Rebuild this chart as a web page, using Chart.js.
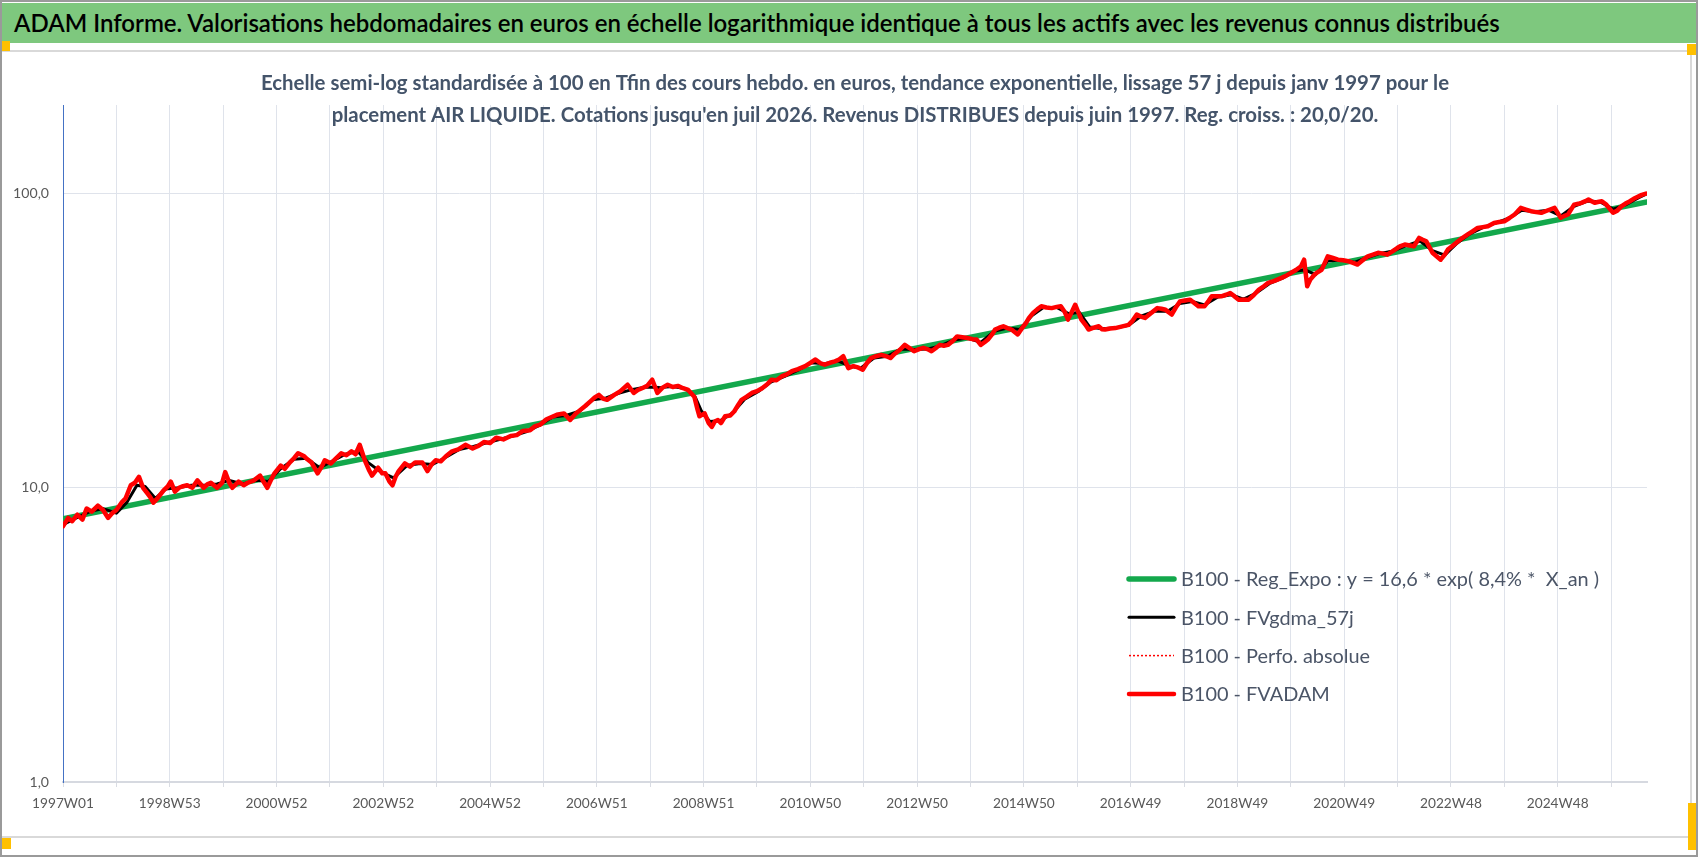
<!DOCTYPE html>
<html lang="fr">
<head>
<meta charset="utf-8">
<title>ADAM Informe - AIR LIQUIDE</title>
<script src="https://cdn.jsdelivr.net/npm/chart.js@4.4.1/dist/chart.umd.min.js"></script>
<style>
  html, body { margin: 0; padding: 0; background: #fff; }
  #page { position: relative; width: 1698px; height: 857px; overflow: hidden; background: #fff; }
  #page div { position: absolute; }
  #header { left: 0; top: 3px; width: 1698px; height: 40px; background: #7ec87e; }
  #headerText { left: 14px; top: 0; line-height: 40px; color: #000; white-space: nowrap; font-weight: 600; }
  .rule { background: #d9d9d9; }
  .handle { background: #ffc000; }
  #frame { left: 0; top: 0; width: 1698px; height: 857px; box-sizing: border-box; border: 2px solid #9a9a9a; }
  canvas { position: absolute; left: 0; top: 0; }
</style>
</head>
<body>
<div id="page">
  <div id="header"><div id="headerText"></div></div>
  <div class="rule" style="left:0;top:50px;width:1692px;height:2px"></div>
  <div class="rule" style="left:1690px;top:50px;width:2px;height:788px"></div>
  <div class="rule" style="left:0;top:836px;width:1692px;height:2px"></div>
  <canvas id="chart" width="1698" height="857"></canvas>
  <div class="handle" style="left:0;top:41px;width:10px;height:10px"></div>
  <div class="handle" style="left:1687px;top:44px;width:9px;height:11px"></div>
  <div class="handle" style="left:0;top:838px;width:11px;height:11px"></div>
  <div class="handle" style="left:1688px;top:803px;width:9px;height:47px"></div>
  <div id="frame"></div>
</div>
<script>
// --- data (x = week index since 1997W01) ---
const weekLabels = ['1997W01', '1998W53', '2000W52', '2002W52', '2004W52', '2006W51', '2008W51',
  '2010W50', '2012W50', '2014W50', '2016W49', '2018W49', '2020W49', '2022W48', '2024W48'];
const yTickValues = [1, 10, 100];
const lastWeek = 1543;

const seriesNames = [
  'B100 - Reg_Expo : y = 16,6 * exp( 8,4% *  X_an )',
  'B100 - FVgdma_57j',
  'B100 - Perfo. absolue',
  'B100 - FVADAM'
];

// exponential trend: straight on the log scale, end points
const regWeeks = [0, 1543];
const regValues = [7.85, 93.6];

// FVADAM (weekly valuation, base 100 at the end)
const adamWeeks = [
  0, 5, 9, 14, 19, 23, 28, 34, 39, 44,
  48, 52, 57, 61, 66, 70, 74, 78, 82, 85,
  88, 92, 98, 102, 105, 109, 113, 116, 121, 126,
  131, 137, 141, 144, 150, 155, 158, 162, 165, 171,
  176, 180, 186, 192, 196, 199, 203, 206, 212, 216,
  221, 225, 229, 235, 238, 242, 248, 252, 255, 261,
  266, 271, 276, 281, 285, 289, 294, 298, 301, 307,
  311, 314, 318, 321, 324, 327, 333, 338, 343, 350,
  355, 359, 363, 368, 373, 379, 385, 392, 399, 405,
  410, 416, 422, 429, 436, 442, 448, 455, 460, 465,
  471, 476, 481, 488, 494, 499, 504, 509, 514, 518,
  522, 526, 530, 537, 543, 550, 556, 560, 564, 569,
  574, 579, 584, 589, 594, 599, 604, 609, 615, 618,
  620, 625, 629, 632, 635, 638, 641, 645, 650, 654,
  658, 661, 666, 671, 676, 681, 686, 690, 695, 700,
  705, 710, 716, 723, 728, 733, 738, 742, 747, 752,
  756, 760, 765, 770, 775, 779, 783, 787, 792, 797,
  802, 806, 810, 815, 820, 825, 829, 834, 838, 842,
  846, 850, 854, 858, 862, 867, 871, 876, 881, 886,
  890, 894, 898, 901, 905, 908, 912, 916, 920, 924,
  930, 934, 938, 941, 945, 949, 953, 958, 963, 968,
  972, 976, 979, 983, 986, 989, 992, 996, 999, 1004,
  1009, 1012, 1015, 1020, 1025, 1031, 1038, 1042, 1046, 1050,
  1054, 1060, 1066, 1070, 1074, 1077, 1080, 1084, 1088, 1093,
  1098, 1102, 1106, 1112, 1116, 1119, 1124, 1129, 1133, 1137,
  1141, 1145, 1150, 1155, 1160, 1165, 1170, 1174, 1180, 1187,
  1192, 1196, 1201, 1206, 1209, 1212, 1215, 1219, 1222, 1226,
  1229, 1232, 1237, 1242, 1247, 1252, 1256, 1261, 1266, 1271,
  1276, 1281, 1286, 1290, 1295, 1300, 1303, 1307, 1312, 1316,
  1321, 1324, 1328, 1331, 1334, 1338, 1342, 1346, 1349, 1354,
  1359, 1363, 1368, 1373, 1378, 1383, 1388, 1394, 1399, 1404,
  1409, 1414, 1417, 1420, 1425, 1430, 1435, 1440, 1446, 1453,
  1456, 1459, 1462, 1466, 1469, 1472, 1476, 1479, 1483, 1486,
  1489, 1492, 1495, 1499, 1503, 1507, 1510, 1514, 1518, 1522,
  1526, 1530, 1534, 1538, 1542
];
const adamValues = [
  7.4, 7.9, 7.7, 8.1, 7.8, 8.5, 8.3, 8.7, 8.4, 7.9,
  8.2, 8.4, 8.9, 9.2, 10.2, 10.4, 10.9, 10.0, 9.6, 9.3,
  8.9, 9.2, 9.8, 10.1, 10.5, 9.7, 10.0, 10.1, 10.2, 10.0,
  10.6, 10.0, 10.3, 10.4, 10.0, 10.4, 11.3, 10.4, 10.0, 10.5,
  10.2, 10.4, 10.6, 11.0, 10.4, 10.0, 10.7, 11.2, 11.9, 11.6,
  12.2, 12.6, 13.1, 12.8, 12.5, 12.2, 11.2, 11.8, 12.4, 12.1,
  12.6, 13.1, 12.9, 13.3, 13.0, 14.0, 12.4, 11.5, 11.0, 11.7,
  11.2, 11.2, 10.5, 10.2, 10.9, 11.4, 12.1, 11.8, 12.2, 12.2,
  11.4, 12.0, 12.4, 12.3, 12.8, 13.3, 13.5, 14.0, 13.6, 13.9,
  14.3, 14.2, 14.8, 14.6, 15.0, 15.1, 15.6, 15.7, 16.2, 16.4,
  17.1, 17.4, 17.7, 17.9, 17.0, 17.8, 18.4, 19.0, 19.7, 20.3,
  20.7, 20.1, 19.9, 20.7, 21.3, 22.4, 21.0, 21.5, 21.8, 22.2,
  23.3, 21.0, 21.9, 22.4, 22.0, 22.2, 21.8, 21.5, 20.4, 18.5,
  17.5, 17.9, 16.6, 16.1, 16.8, 17.0, 16.6, 17.5, 17.6, 18.2,
  19.2, 19.9, 20.4, 21.0, 21.3, 21.8, 22.5, 23.3, 23.2, 23.9,
  24.3, 24.9, 25.3, 25.9, 26.6, 27.3, 26.5, 26.2, 26.6, 26.9,
  27.3, 28.0, 25.5, 25.9, 25.6, 25.2, 26.5, 27.6, 28.0, 28.3,
  28.0, 27.6, 28.5, 29.4, 30.6, 29.8, 29.1, 29.6, 29.9, 29.6,
  29.1, 29.8, 30.6, 30.4, 30.6, 31.6, 32.7, 32.5, 32.3, 32.0,
  31.9, 30.6, 31.3, 31.9, 33.2, 34.5, 35.0, 35.4, 34.9, 34.5,
  33.2, 34.8, 36.3, 37.8, 39.3, 40.4, 41.4, 41.0, 40.8, 41.2,
  41.4, 39.5, 37.3, 39.8, 41.9, 39.5, 37.3, 35.8, 34.5, 35.0,
  35.4, 34.6, 34.5, 34.8, 34.9, 35.3, 35.8, 37.0, 38.8, 38.2,
  37.8, 39.3, 40.8, 40.6, 40.3, 39.5, 38.8, 41.0, 43.0, 43.3,
  43.6, 42.5, 41.4, 41.4, 43.2, 44.8, 44.8, 44.8, 45.3, 45.9,
  44.8, 43.6, 43.6, 43.6, 45.2, 47.2, 48.5, 49.7, 50.5, 51.7,
  52.7, 53.7, 55.0, 56.6, 59.6, 48.4, 51.0, 53.0, 54.0, 55.1,
  58.0, 61.2, 60.4, 59.6, 59.3, 58.9, 58.2, 57.4, 59.3, 61.2,
  62.0, 62.9, 62.5, 62.0, 63.6, 65.4, 66.3, 67.1, 66.6, 66.2,
  70.7, 69.8, 68.8, 65.8, 62.9, 61.2, 59.6, 62.0, 64.5, 66.6,
  68.8, 70.6, 72.5, 74.4, 76.4, 76.9, 77.4, 79.4, 80.0, 80.5,
  82.6, 84.9, 87.0, 89.4, 88.2, 87.1, 86.5, 86.0, 87.6, 89.4,
  86.0, 82.7, 83.8, 84.9, 88.2, 91.7, 92.3, 93.0, 94.2, 95.4,
  94.2, 93.0, 93.6, 94.2, 92.0, 88.5, 86.1, 87.5, 90.5, 92.5,
  94.0, 96.0, 97.5, 99.0, 100.0
];

// FVgdma_57j (smoothed)
const gdmaWeeks = [
  0, 13, 26, 39, 52, 62, 72, 80, 90, 100,
  112, 125, 138, 150, 162, 175, 188, 200, 212, 225,
  237, 250, 262, 275, 287, 297, 310, 322, 335, 348,
  360, 373, 386, 399, 412, 425, 438, 451, 464, 477,
  490, 503, 516, 529, 542, 555, 568, 581, 594, 607,
  616, 622, 630, 640, 652, 664, 677, 690, 703, 716,
  729, 742, 755, 765, 777, 790, 803, 816, 829, 842,
  855, 868, 881, 894, 907, 920, 932, 944, 955, 968,
  980, 990, 1000, 1012, 1025, 1038, 1050, 1063, 1076, 1088,
  1100, 1112, 1125, 1138, 1150, 1162, 1175, 1188, 1200, 1210,
  1220, 1232, 1245, 1258, 1270, 1283, 1296, 1309, 1322, 1334,
  1346, 1358, 1370, 1383, 1396, 1409, 1421, 1434, 1447, 1459,
  1472, 1485, 1497, 1510, 1522, 1535, 1542
];
const gdmaValues = [
  7.5, 7.9, 8.3, 8.5, 8.2, 8.9, 10.2, 10.1, 9.2, 9.9,
  10.0, 10.2, 10.2, 10.3, 10.6, 10.3, 10.6, 10.5, 11.6, 12.5,
  12.6, 11.7, 12.3, 13.0, 13.3, 12.2, 11.3, 10.8, 11.9, 12.1,
  12.0, 12.7, 13.5, 13.8, 14.2, 14.6, 15.0, 15.5, 16.3, 17.4,
  17.6, 18.2, 19.9, 20.2, 21.0, 21.6, 22.0, 21.9, 22.1, 21.7,
  20.3, 18.2, 16.8, 16.9, 17.9, 20.0, 21.2, 22.9, 23.9, 25.1,
  26.6, 26.4, 27.0, 26.0, 25.5, 27.6, 28.0, 29.6, 29.5, 29.6,
  30.4, 31.8, 32.3, 31.2, 34.0, 34.9, 34.5, 38.5, 41.0, 41.0,
  39.0, 39.5, 35.2, 34.7, 34.9, 35.7, 38.3, 39.8, 39.8, 42.3,
  43.0, 41.8, 44.5, 45.3, 43.8, 45.8, 49.4, 51.6, 54.6, 55.0,
  53.0, 59.0, 59.5, 58.4, 60.5, 62.6, 63.8, 66.7, 69.0, 64.0,
  61.8, 67.8, 72.8, 76.6, 79.5, 82.6, 87.8, 86.8, 87.8, 84.0,
  90.5, 94.3, 93.8, 88.5, 91.5, 96.8, 99.5
];

const headerTitle = 'ADAM Informe. Valorisations hebdomadaires en euros en échelle logarithmique identique à tous les actifs avec les revenus connus distribués';
const subTitle = [
  'Echelle semi-log standardisée à 100 en Tfin des cours hebdo. en euros, tendance exponentielle, lissage 57 j depuis janv 1997 pour le',
  "placement AIR LIQUIDE. Cotations jusqu'en juil 2026. Revenus DISTRIBUES depuis juin 1997. Reg. croiss. : 20,0/20."
];

// --- fonts: size each text so that it spans the width measured on the picture ---
const FONT = 'Lato, "Liberation Sans", sans-serif';
function hasFont(name) {
  const c = document.createElement('canvas').getContext('2d');
  const s = 'abcdefghijklmnopqrstuvwxyz 0123456789 WMW';
  c.font = '40px monospace';
  const a = c.measureText(s).width;
  c.font = '40px "' + name + '", monospace';
  return c.measureText(s).width !== a;
}
// the original uses a narrow face for the axis labels
const TICK_FONT = hasFont('Liberation Sans Narrow') ? '"Liberation Sans Narrow", ' + FONT : FONT;

function fitSize(text, weight, family, target) {
  const c = document.createElement('canvas').getContext('2d');
  c.font = weight + ' 100px ' + family;
  return Math.round(1000 * target / c.measureText(text).width) / 10;
}
const headerSize = fitSize(headerTitle, '600', FONT, 1484);
const subSize = fitSize(subTitle[0], 'bold', FONT, 1186);
const legendSize = fitSize(seriesNames[2], 'normal', FONT, 189);
const xTickSize = fitSize(weekLabels[0], 'normal', TICK_FONT, 62);
const yTickSize = fitSize('100,0', 'normal', TICK_FONT, 36);

const headerEl = document.getElementById('headerText');
headerEl.textContent = headerTitle;
headerEl.style.fontFamily = FONT;
headerEl.style.fontSize = headerSize + 'px';

function points(xs, ys) {
  return xs.map((x, i) => ({ x: x, y: ys[i] }));
}

// legend drawn inside the plot, lower right
const legendInside = {
  id: 'legendInside',
  afterDraw(chart) {
    const ctx = chart.ctx;
    const area = chart.chartArea;
    const x0 = area.left + 1064;
    const y0 = area.top + 474;
    ctx.save();
    ctx.font = legendSize + 'px ' + FONT;
    ctx.textBaseline = 'middle';
    ctx.fillStyle = '#4b5567';
    chart.data.datasets.forEach((ds, i) => {
      const y = y0 + i * 38.3;
      ctx.beginPath();
      ctx.setLineDash(ds.borderDash || []);
      ctx.lineWidth = ds.borderWidth;
      ctx.strokeStyle = ds.borderColor;
      ctx.lineCap = ds.borderDash ? 'butt' : 'round';
      ctx.moveTo(x0 + 2, y);
      ctx.lineTo(x0 + 47, y);
      ctx.stroke();
      ctx.setLineDash([]);
      ctx.fillText(ds.label, x0 + 54, y + 1);
    });
    ctx.restore();
  }
};

const gridColor = '#dfe3eb';

new Chart(document.getElementById('chart').getContext('2d'), {
  type: 'line',
  data: {
    datasets: [
      { label: seriesNames[0], data: points(regWeeks, regValues), borderColor: '#13a84c', borderWidth: 5.5, order: 4 },
      { label: seriesNames[1], data: points(gdmaWeeks, gdmaValues), borderColor: '#000000', borderWidth: 3, order: 3 },
      { label: seriesNames[2], data: points(adamWeeks, adamValues), borderColor: '#ff0000', borderWidth: 1.5, borderDash: [2, 2], order: 2 },
      { label: seriesNames[3], data: points(adamWeeks, adamValues), borderColor: '#ff0000', borderWidth: 4.5, order: 1 }
    ]
  },
  options: {
    responsive: false,
    animation: false,
    events: [],
    layout: { padding: { left: 0, top: 67, right: 51, bottom: 30 } },
    elements: {
      point: { radius: 0 },
      line: { tension: 0, borderJoinStyle: 'round', borderCapStyle: 'round', fill: false }
    },
    plugins: {
      legend: { display: false },
      tooltip: { enabled: false },
      title: {
        display: true,
        fullSize: false,
        text: subTitle,
        color: '#44546a',
        font: { family: FONT, size: subSize, weight: 'bold', lineHeight: '32px' },
        padding: { top: 0, bottom: -26 }
      }
    },
    scales: {
      x: {
        type: 'linear',
        min: 0,
        max: lastWeek,
        afterBuildTicks: (s) => {
          const t = [];
          for (let v = 0; v <= lastWeek; v += 52) t.push({ value: v });
          s.ticks = t;
        },
        afterFit: (s) => { s.height = 45; },
        ticks: {
          autoSkip: false,
          maxRotation: 0,
          minRotation: 0,
          padding: 8,
          color: '#595959',
          font: { family: TICK_FONT, size: xTickSize },
          callback: (v) => (v % 104 === 0 ? weekLabels[v / 104] : '')
        },
        grid: {
          color: (c) => (c.tick && c.tick.value === 0 ? 'rgba(0,0,0,0)' : gridColor),
          tickColor: '#d9dce3',
          tickLength: 5
        },
        border: { color: '#d6d9e0', width: 2 }
      },
      y: {
        type: 'logarithmic',
        min: 1,
        max: 200,
        afterBuildTicks: (s) => { s.ticks = yTickValues.map((v) => ({ value: v })); },
        afterFit: (s) => { s.width = 63; },
        ticks: {
          padding: 14,
          color: '#595959',
          font: { family: TICK_FONT, size: yTickSize },
          callback: (v) => Number(v).toFixed(1).replace('.', ',')
        },
        grid: { color: gridColor, drawTicks: false },
        border: { color: '#4472c4', width: 1 }
      }
    }
  },
  plugins: [legendInside]
});
</script>
</body>
</html>
